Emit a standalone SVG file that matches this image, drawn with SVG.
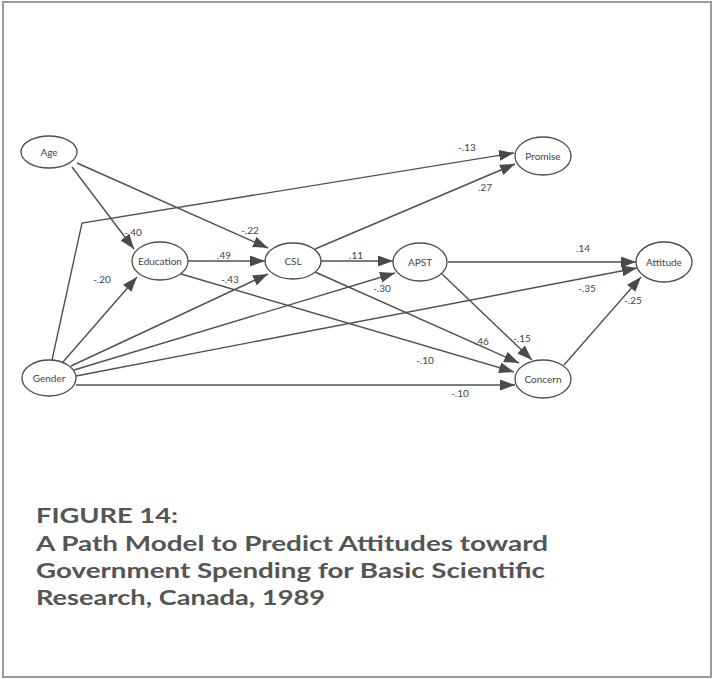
<svg xmlns="http://www.w3.org/2000/svg" width="713" height="679" viewBox="0 0 713 679">
  <style>
    .frame { fill: #ffffff; stroke: #9a9a9a; stroke-width: 2; }
    .node ellipse { fill: #ffffff; stroke: #4d4d4d; stroke-width: 1.3; }
    .node text { font-family: Lato, "Liberation Sans", sans-serif; font-size: 10px; fill: #444444; text-anchor: middle; }
    .edge { fill: none; stroke: #505050; stroke-width: 1.4; marker-end: url(#arrow); }
    .coef { font-family: Lato, "Liberation Sans", sans-serif; font-size: 10px; fill: #444444; text-anchor: middle; }
    .title { font-family: Lato, "Liberation Sans", sans-serif; font-size: 21px; font-weight: bold; fill: #555555; }
  </style>
  <defs>
    <marker id="arrow" markerUnits="userSpaceOnUse" markerWidth="15" markerHeight="11" refX="15" refY="5.5" orient="auto">
      <path d="M0,0 L15,5.5 L0,11 z" fill="#4a4a4a"/>
    </marker>
  </defs>

  <rect class="frame" x="3" y="2" width="708" height="675"/>

  <!-- paths between the variables -->
  <g id="connectors">
    <line class="edge" x1="72" y1="167" x2="134" y2="249"/>
    <line class="edge" x1="77" y1="163" x2="268" y2="248"/>
    <polyline class="edge" points="52,360 82,223 514,153"/>
    <line class="edge" x1="315" y1="249" x2="515" y2="164"/>
    <line class="edge" x1="188" y1="261" x2="265" y2="261"/>
    <line class="edge" x1="181" y1="274" x2="514" y2="372"/>
    <line class="edge" x1="315" y1="272" x2="519" y2="363"/>
    <line class="edge" x1="442" y1="274" x2="532" y2="360"/>
    <line class="edge" x1="76" y1="385" x2="515" y2="385"/>
    <line class="edge" x1="321" y1="261" x2="393" y2="261"/>
    <line class="edge" x1="74" y1="370" x2="395" y2="273"/>
    <line class="edge" x1="448" y1="262" x2="636" y2="262"/>
    <line class="edge" x1="76" y1="376" x2="637" y2="268"/>
    <line class="edge" x1="564" y1="365" x2="641" y2="277"/>
    <line class="edge" x1="63" y1="362" x2="137" y2="277"/>
    <line class="edge" x1="71" y1="366" x2="268" y2="274"/>
  </g>

  <!-- path coefficients -->
  <g id="coefficients">
    <text class="coef" x="133" y="236">-.40</text>
    <text class="coef" x="250" y="234">-.22</text>
    <text class="coef" x="102" y="283">-.20</text>
    <text class="coef" x="224" y="259">.49</text>
    <text class="coef" x="230" y="283">-.43</text>
    <text class="coef" x="356" y="259">.11</text>
    <text class="coef" x="467" y="151">-.13</text>
    <text class="coef" x="485" y="191">.27</text>
    <text class="coef" x="583" y="252">.14</text>
    <text class="coef" x="382" y="292">-.30</text>
    <text class="coef" x="587" y="292">-.35</text>
    <text class="coef" x="633" y="304">-.25</text>
    <text class="coef" x="480" y="345">-.46</text>
    <text class="coef" x="522" y="342">-.15</text>
    <text class="coef" x="425" y="364">-.10</text>
    <text class="coef" x="460" y="397">-.10</text>
  </g>

  <g id="age" class="node">
    <ellipse cx="49" cy="152" rx="28" ry="16"/>
    <text x="49" y="155.5">Age</text>
  </g>
  <g id="education" class="node">
    <ellipse cx="160" cy="261" rx="28" ry="19"/>
    <text x="160" y="264.5">Education</text>
  </g>
  <g id="csl" class="node">
    <ellipse cx="293" cy="261" rx="28" ry="18"/>
    <text x="293" y="264.5">CSL</text>
  </g>
  <g id="promise" class="node">
    <ellipse cx="543" cy="156" rx="28" ry="19"/>
    <text x="543" y="159.5">Promise</text>
  </g>
  <g id="apst" class="node">
    <ellipse cx="420" cy="262" rx="27" ry="19"/>
    <text x="420" y="265.5">APST</text>
  </g>
  <g id="attitude" class="node">
    <ellipse cx="664" cy="262" rx="28" ry="20"/>
    <text x="664" y="265.5">Attitude</text>
  </g>
  <g id="gender" class="node">
    <ellipse cx="49" cy="378" rx="27" ry="18"/>
    <text x="49" y="381.5">Gender</text>
  </g>
  <g id="concern" class="node">
    <ellipse cx="543" cy="379" rx="28" ry="19"/>
    <text x="543" y="382.5">Concern</text>
  </g>

  <!-- caption -->
  <g id="caption">
    <text class="title" x="36" y="523" textLength="142" lengthAdjust="spacingAndGlyphs">FIGURE 14:</text>
    <text class="title" x="36" y="551" textLength="512" lengthAdjust="spacingAndGlyphs">A Path Model to Predict Attitudes toward</text>
    <text class="title" x="36" y="578" textLength="509" lengthAdjust="spacingAndGlyphs">Government Spending for Basic Scientific</text>
    <text class="title" x="36" y="605" textLength="289" lengthAdjust="spacingAndGlyphs">Research, Canada, 1989</text>
  </g>
</svg>
